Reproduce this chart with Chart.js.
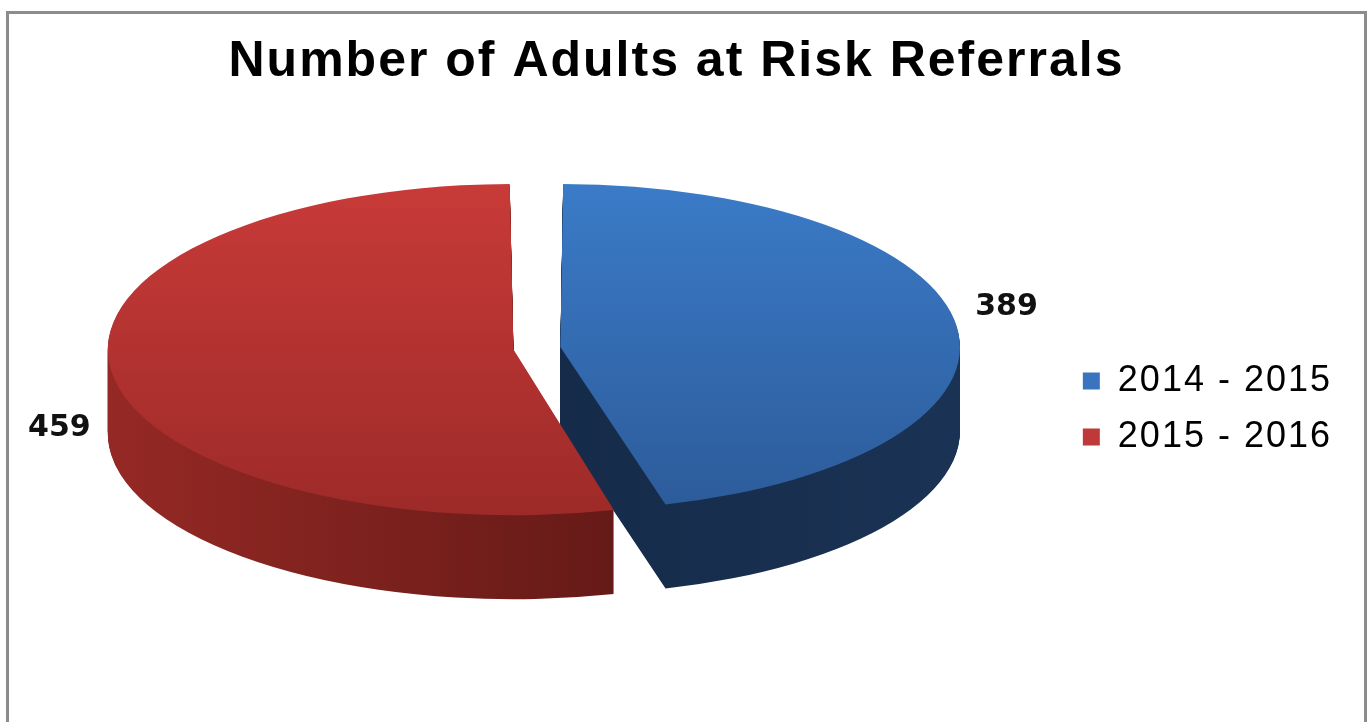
<!DOCTYPE html>
<html>
<head>
<meta charset="utf-8">
<script src="https://cdn.jsdelivr.net/npm/chart.js@4.4.1/dist/chart.umd.min.js"></script>
<style>
  html, body { margin: 0; padding: 0; background: #fff; overflow: hidden; }
  #frame { position: absolute; left: 6px; top: 11px; width: 1361px; height: 760px;
           border: 3px solid #8c8c8c; box-sizing: border-box; }
  #chart { position: absolute; left: 0; top: 0; }
</style>
</head>
<body>
<div id="frame"></div>
<canvas id="chart" width="1370" height="722"></canvas>
<script>
// data
const categories = ["2014 - 2015", "2015 - 2016"];
const referrals = [389, 459];
const chartTitle = "Number of Adults at Risk Referrals";

// colours (top face gradient, side gradient, legend swatch)
const topColours = [["#3b7cc9", "#2c5a98"], ["#c93b39", "#9c2a28"]];
const sideColours = [["#11243f", "#1a3254"], ["#932824", "#4b1210"]];
const legendColours = ["#3b74be", "#c0393a"];

// squash the round pie into a tilted disc and give it some depth
const pie3d = {
  id: "pie3d",
  beforeLayout(chart) {
    chart.ctx.letterSpacing = "2px";
  },
  beforeDraw(chart) {
    chart.ctx.letterSpacing = "2px";
  },
  beforeDatasetsDraw(chart, args, opts) {
    const ctx = chart.ctx;
    const arcs = chart.getDatasetMeta(0).data;
    const area = chart.chartArea;
    const r = arcs[0].outerRadius;
    const cx = arcs[0].x;
    const sx = opts.rx / r, sy = opts.ry / r;
    const project = (d) => {
      ctx.translate(0, d);
      ctx.translate(cx, area.top);
      ctx.scale(sx, sy);
      ctx.translate(-cx, -area.top);
    };
    // sides: stack copies of each slice going downwards
    for (let d = opts.depth; d >= 1; d--) {
      arcs.forEach((arc, i) => {
        const g = ctx.createLinearGradient(cx - r, 0, cx + r, 0);
        g.addColorStop(0, sideColours[i][0]);
        g.addColorStop(1, sideColours[i][1]);
        const saved = arc.options;
        arc.options = Object.assign({}, saved, { backgroundColor: g });
        ctx.save();
        project(d);
        arc.draw(ctx);
        ctx.restore();
        arc.options = saved;
      });
    }
    // top faces are drawn by the library under the same projection
    ctx.save();
    project(0);
  },
  afterDatasetsDraw(chart, args, opts) {
    const ctx = chart.ctx;
    ctx.restore();
    const arcs = chart.getDatasetMeta(0).data;
    const area = chart.chartArea;
    const r = arcs[0].outerRadius;
    const cx = arcs[0].x;
    const sx = opts.rx / r, sy = opts.ry / r;
    ctx.save();
    ctx.letterSpacing = "0px";
    ctx.font = "bold 30px 'DejaVu Sans', Verdana, sans-serif";
    ctx.fillStyle = "#111";
    ctx.textBaseline = "middle";
    arcs.forEach((arc, i) => {
      const mid = (arc.startAngle + arc.endAngle) / 2;
      const rr = arc.outerRadius + (arc.options.offset || 0) / 4;
      const px = arc.x + Math.cos(mid) * rr;
      const py = arc.y + Math.sin(mid) * rr;
      const x = cx + (px - cx) * sx;
      const y = area.top + (py - area.top) * sy;
      const right = Math.cos(mid) > 0;
      const nudge = right ? opts.nudgeRight : opts.nudgeLeft;
      ctx.textAlign = right ? "left" : "right";
      ctx.fillText(String(referrals[i]), x + nudge[0], y + nudge[1]);
    });
    ctx.restore();
  }
};

const faceGradient = (c) => {
  const chart = c.chart;
  const area = chart.chartArea;
  const cols = topColours[c.dataIndex];
  if (!area) return cols[0];
  const g = chart.ctx.createLinearGradient(0, area.top, 0, area.bottom);
  g.addColorStop(0, cols[0]);
  g.addColorStop(1, cols[1]);
  return g;
};

new Chart(document.getElementById("chart"), {
  type: "pie",
  data: {
    labels: categories,
    datasets: [{
      data: referrals,
      backgroundColor: faceGradient,
      borderWidth: 0,
      offset: 52
    }]
  },
  plugins: [pie3d],
  options: {
    responsive: false,
    animation: false,
    layout: { padding: { left: 11, right: 28, top: 0, bottom: 77 } },
    plugins: {
      title: {
        display: true,
        text: chartTitle,
        color: "#000",
        font: { family: "'Liberation Sans', Arial, sans-serif", size: 50, weight: "bold" },
        padding: { top: 32, bottom: 81 }
      },
      legend: {
        position: "right",
        fullSize: false,
        labels: {
          color: "#000",
          font: { family: "'Liberation Sans', Arial, sans-serif", size: 36 },
          boxWidth: 17,
          boxHeight: 17,
          padding: 20,
          generateLabels(chart) {
            const items = Chart.overrides.pie.plugins.legend.labels.generateLabels(chart);
            items.forEach((it, i) => {
              it.fillStyle = legendColours[i];
              it.strokeStyle = legendColours[i];
              it.lineWidth = 0;
            });
            return items;
          }
        }
      },
      tooltip: { enabled: false },
      pie3d: { rx: 382, ry: 156, depth: 84, nudgeRight: [36, -20], nudgeLeft: [-44, 58] }
    }
  }
});
</script>
</body>
</html>
